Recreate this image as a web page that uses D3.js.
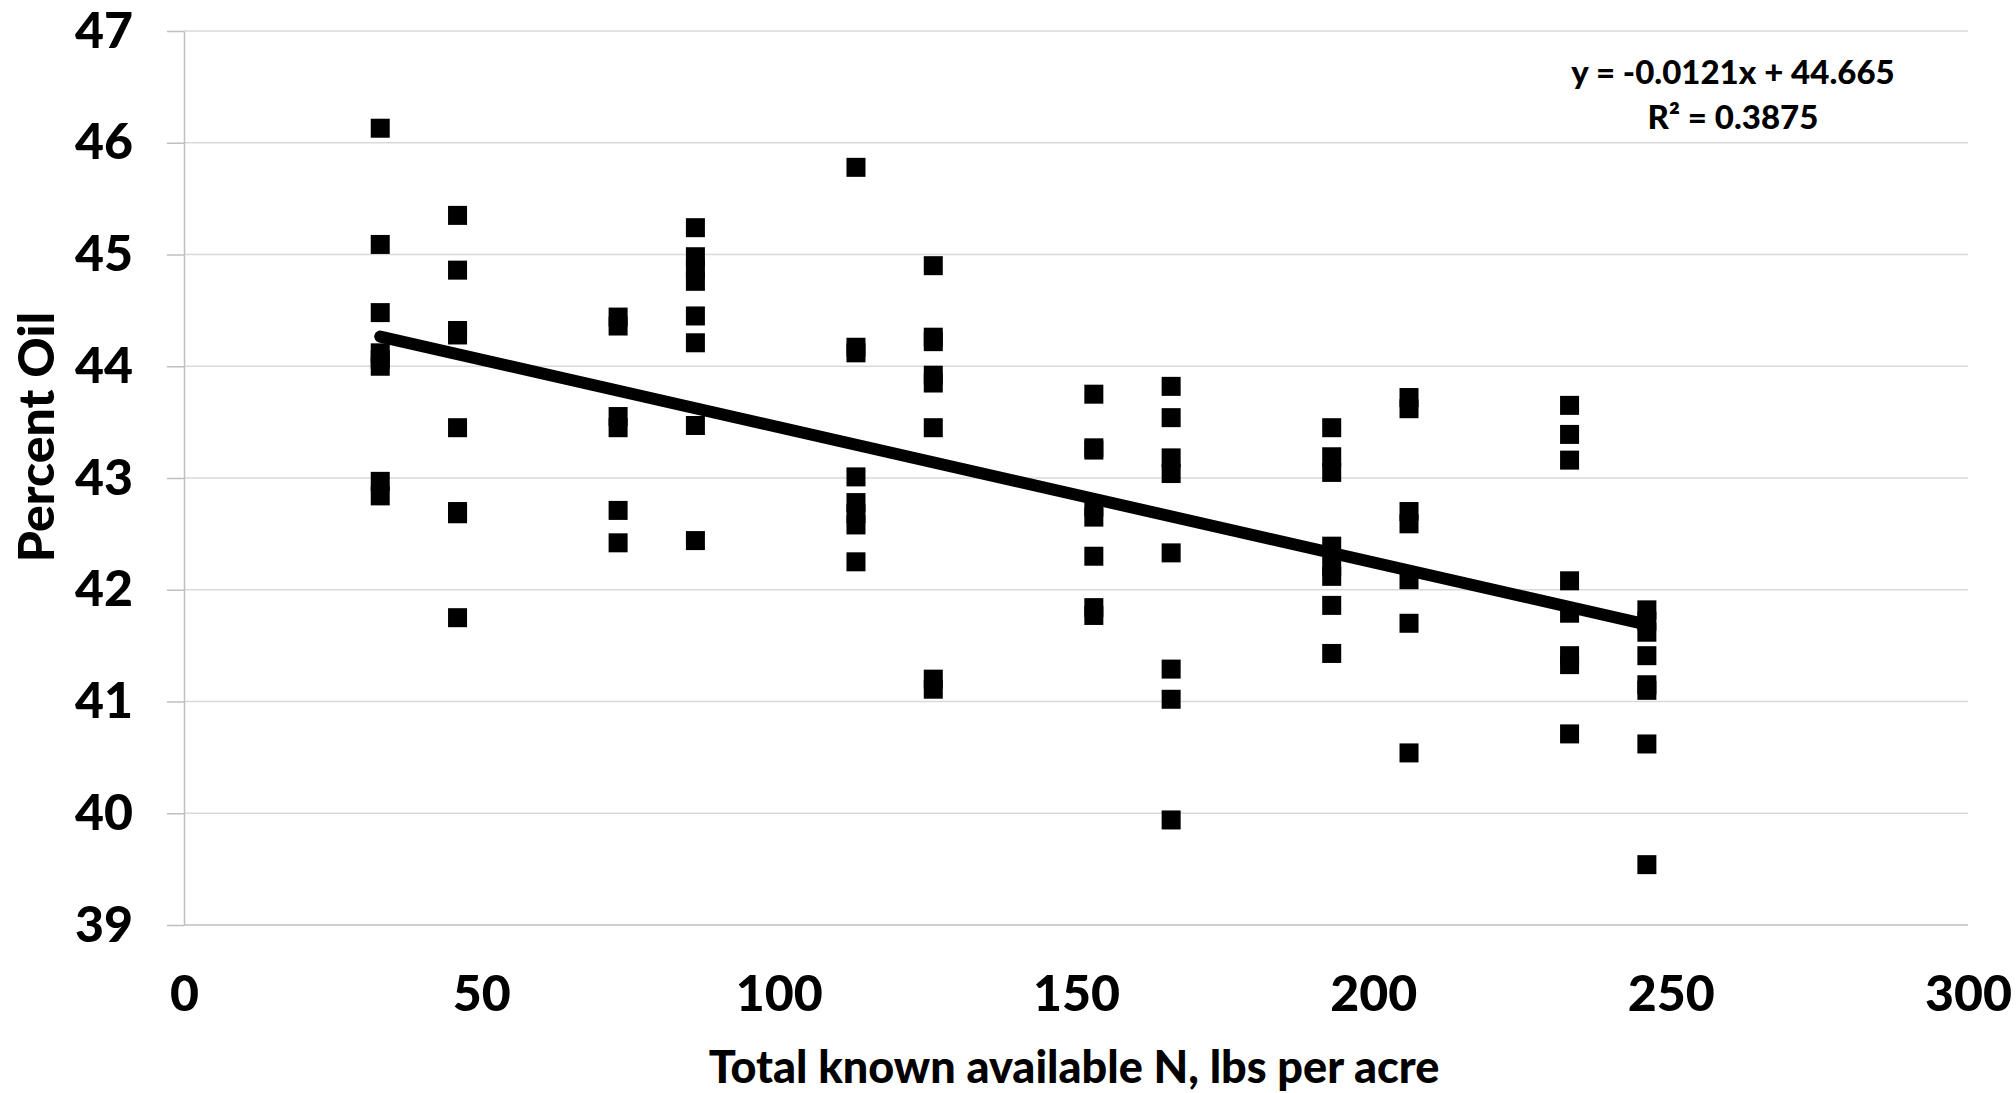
<!DOCTYPE html>
<html>
<head>
<meta charset="utf-8">
<script src="https://cdn.jsdelivr.net/npm/d3@7"></script>
<style>
    html, body { margin: 0; padding: 0; background: #fff; }
    svg text { font-family: Lato, "Open Sans", sans-serif; font-weight: 900; fill: #000; }
</style>
</head>
<body>
<div id="chart"></div>
<script>
// N rates (lbs/acre) and the oil % readings at each rate
const nRates = [33, 46, 73, 86, 113, 126, 153, 166, 193, 206, 233, 246];
const oilByRate = [
    [46.13, 45.09, 44.48, 44.12, 44.06, 44.00, 42.97, 42.84],
    [45.35, 44.86, 44.32, 44.28, 43.45, 42.70, 42.68, 41.75],
    [44.44, 44.36, 43.55, 43.45, 42.71, 42.42],
    [45.24, 44.98, 44.87, 44.76, 44.45, 44.21, 43.47, 42.44],
    [45.78, 44.17, 44.12, 43.01, 42.78, 42.68, 42.58, 42.25],
    [44.90, 44.26, 44.22, 43.92, 43.85, 43.45, 41.20, 41.11],
    [43.75, 43.27, 43.25, 42.74, 42.65, 42.30, 41.84, 41.77],
    [43.82, 43.54, 43.18, 43.04, 42.33, 41.29, 41.02, 39.94],
    [43.45, 43.19, 43.05, 42.39, 42.21, 42.12, 41.86, 41.43],
    [43.72, 43.62, 42.70, 42.59, 42.09, 41.70, 40.54],
    [43.65, 43.39, 43.16, 42.08, 41.79, 41.41, 41.33, 40.71],
    [41.82, 41.72, 41.62, 41.41, 41.15, 41.10, 40.62, 39.54]
];
const xTicks = [0, 50, 100, 150, 200, 250, 300];
const yTicks = [39, 40, 41, 42, 43, 44, 45, 46, 47];
const trendSlope = -0.0121;
const trendIntercept = 44.665;
const trendText = ["y = -0.0121x + 44.665", "R² = 0.3875"];

const width = 2016, height = 1093;
const margin = { top: 31, right: 48, bottom: 168, left: 184 };

const svg = d3.select("#chart").append("svg")
    .attr("width", width)
    .attr("height", height);

const x = d3.scaleLinear().domain([0, 300]).range([margin.left, width - margin.right]);
const y = d3.scaleLinear().domain([39, 47]).range([height - margin.bottom, margin.top]);

// horizontal gridlines
svg.append("g")
    .selectAll("line")
    .data(yTicks)
    .join("line")
    .attr("x1", x(0)).attr("x2", x(300))
    .attr("y1", d => y(d)).attr("y2", d => y(d))
    .attr("stroke", d => d === 39 ? "#bfbfbf" : "#d9d9d9")
    .attr("stroke-width", 1.5);

// y axis: line + outside ticks + labels
const yAxis = svg.append("g")
    .attr("transform", `translate(${x(0)},0)`)
    .call(d3.axisLeft(y).tickValues(yTicks).tickSize(17).tickPadding(34).tickSizeOuter(0));
yAxis.select(".domain").attr("stroke", "#bfbfbf").attr("stroke-width", 1.5);
yAxis.selectAll(".tick line").attr("stroke", "#bfbfbf").attr("stroke-width", 1.5);
yAxis.selectAll(".tick text")
    .style("font-size", "50px")
    .attr("font-family", null);

// x axis: labels only
const xAxis = svg.append("g")
    .attr("transform", `translate(0,${y(39)})`)
    .call(d3.axisBottom(x).tickValues(xTicks).tickSize(0).tickPadding(50));
xAxis.select(".domain").remove();
xAxis.selectAll(".tick text")
    .style("font-size", "50px")
    .attr("font-family", null);

// axis titles
svg.append("text")
    .attr("x", 1074)
    .attr("y", 1083)
    .attr("text-anchor", "middle")
    .style("font-size", "45px")
    .text("Total known available N, lbs per acre");

svg.append("text")
    .attr("transform", "translate(54,437) rotate(-90)")
    .attr("text-anchor", "middle")
    .style("font-size", "50px")
    .text("Percent Oil");

// points
const points = nRates.flatMap((n, i) => oilByRate[i].map(v => ({ n, v })));
const sq = 19;
svg.append("g")
    .selectAll("rect")
    .data(points)
    .join("rect")
    .attr("x", d => x(d.n) - sq / 2)
    .attr("y", d => y(d.v) - sq / 2)
    .attr("width", sq)
    .attr("height", sq)
    .attr("fill", "#000");

// linear trendline over the data range
const xMin = d3.min(nRates), xMax = d3.max(nRates);
svg.append("line")
    .attr("x1", x(xMin)).attr("y1", y(trendSlope * xMin + trendIntercept))
    .attr("x2", x(xMax)).attr("y2", y(trendSlope * xMax + trendIntercept))
    .attr("stroke", "#000")
    .attr("stroke-width", 12)
    .attr("stroke-linecap", "round");

// equation label
svg.append("g")
    .selectAll("text")
    .data(trendText)
    .join("text")
    .attr("x", 1733)
    .attr("y", (d, i) => 84 + i * 45)
    .attr("text-anchor", "middle")
    .style("font-size", "33px")
    .text(d => d);
</script>
</body>
</html>
